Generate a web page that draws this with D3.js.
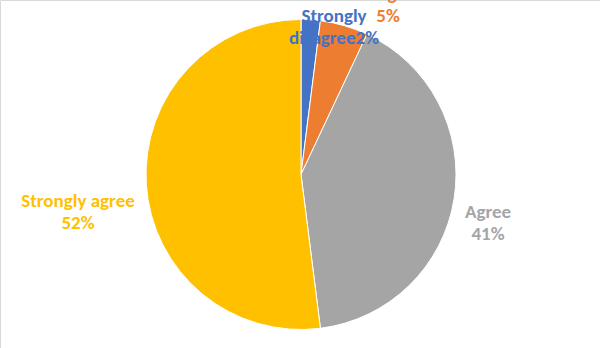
<!DOCTYPE html>
<html>
<head>
<meta charset="utf-8">
<script src="https://cdn.jsdelivr.net/npm/d3@7"></script>
<style>
  html, body { margin: 0; padding: 0; background: #fff; }
  svg { display: block; }
  .lbl { font-family: Calibri, Carlito, Lato, sans-serif; font-weight: bold; font-size: 19px; }
</style>
</head>
<body>
<script>
// survey answers, clockwise from 12 o'clock
var categories = ["Strongly disagree", "Disagree", "Agree", "Strongly agree"];
var values = [2, 5, 41, 52];
var colors = ["#4472C4", "#ED7D31", "#A5A5A5", "#FFC000"];

var w = 600, h = 348;
var cx = 301, cy = 174.5, r = 155;

var svg = d3.select("body").append("svg")
  .attr("width", w)
  .attr("height", h);

// chart frame (only left + top edges show)
svg.append("path")
  .attr("d", "M0.5," + h + "V0.5H" + w)
  .attr("fill", "none")
  .attr("stroke", "#d9d9d9");

var pie = d3.pie().sort(null).value(d => d)(values);
var arc = d3.arc().innerRadius(0).outerRadius(r);

var g = svg.append("g").attr("transform", "translate(" + cx + "," + cy + ")");

g.selectAll("path")
  .data(pie)
  .join("path")
  .attr("d", arc)
  .attr("fill", (d, i) => colors[i])
  .attr("stroke", "#fff")
  .attr("stroke-width", 1);

// where excel put each label (centre x, first line y), lines as shown
var labelPos = [
  {x: 334, y: 15, lines: ["Strongly", "disagree" + values[0] + "%"]},
  {x: 388, y: -7, lines: ["Disagree", values[1] + "%"]},
  {x: 488, y: 211, lines: ["Agree", values[2] + "%"]},
  {x: 78, y: 200, lines: ["Strongly agree", values[3] + "%"]}
];

labelPos.forEach(function(p, i) {
  var t = svg.append("text")
    .attr("class", "lbl")
    .attr("text-anchor", "middle")
    .attr("fill", colors[i]);
  p.lines.forEach(function(s, j) {
    t.append("tspan")
      .attr("x", p.x)
      .attr("y", p.y + j * 22)
      .attr("dy", "0.35em")
      .text(s);
  });
});
</script>
</body>
</html>
